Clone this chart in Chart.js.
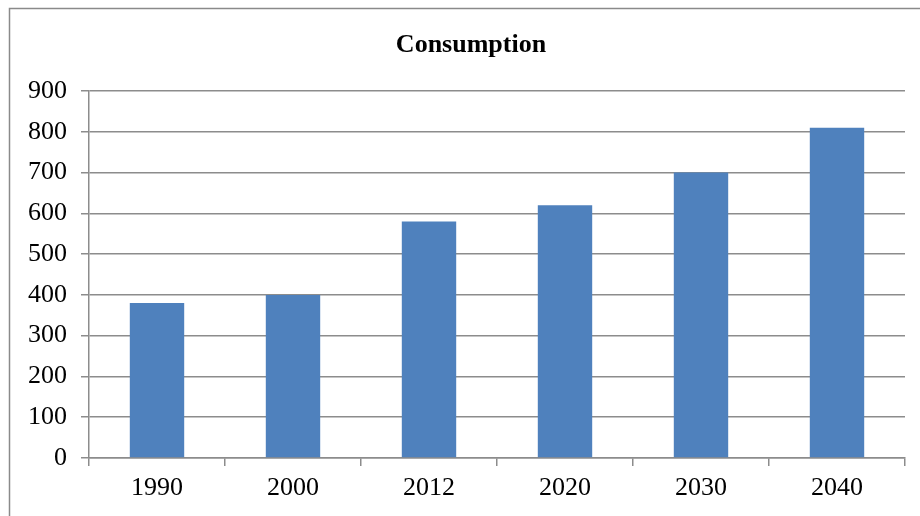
<!DOCTYPE html>
<html>
<head>
<meta charset="utf-8">
<script src="https://cdn.jsdelivr.net/npm/chart.js@4/dist/chart.umd.min.js"></script>
<style>
  html, body { margin: 0; padding: 0; background: #fff; }
  #wrap { width: 920px; height: 516px; position: relative; }
</style>
</head>
<body>
<div id="wrap"><canvas id="consumption-chart"></canvas></div>
<script>
// values
const years = ["1990", "2000", "2012", "2020", "2030", "2040"];
const consumption = [380, 400, 580, 620, 700, 810];
const yTicks = [0, 100, 200, 300, 400, 500, 600, 700, 800, 900];
const chartTitle = "Consumption";

const lineGrey = "#8c8c8c";
const serif = "'Liberation Serif', 'Times New Roman', serif";

// grey frame round the whole chart, cut off at right and bottom like the original
// plus the title, which sits a bit right of the canvas centre in the original
const framePlugin = {
  id: "frame",
  beforeDraw(chart) {
    const ctx = chart.ctx;
    ctx.save();
    ctx.strokeStyle = "#8a8a8a";
    ctx.lineWidth = 1.5;
    ctx.strokeRect(9.5, 8.5, 960, 560);
    ctx.fillStyle = "#000";
    ctx.font = "bold 26px " + serif;
    ctx.textAlign = "center";
    ctx.textBaseline = "alphabetic";
    ctx.fillText(chartTitle, 471, 52);
    ctx.restore();
  },
};

function main() {
  const canvas = document.querySelector("#consumption-chart");
  new Chart(canvas.getContext("2d"), {
    type: "bar",
    data: {
      labels: years,
      datasets: [
        {
          label: chartTitle,
          data: consumption,
          backgroundColor: "#4f81bd",
          borderWidth: 0,
          barPercentage: 0.4,
          categoryPercentage: 1,
        },
      ],
    },
    options: {
      responsive: true,
      maintainAspectRatio: false,
      animation: false,
      layout: { padding: { left: 0, right: 15, top: 91, bottom: 0 } },
      plugins: {
        legend: { display: false },
        tooltip: { enabled: false },
        title: { display: false },
      },
      scales: {
        x: {
          grid: {
            offset: true,
            drawOnChartArea: false,
            drawTicks: true,
            tickLength: 8,
            color: lineGrey,
            lineWidth: 1.5,
          },
          border: { display: true, color: lineGrey, width: 1.5 },
          ticks: {
            color: "#000",
            font: { family: serif, size: 26 },
            padding: 7,
          },
          afterFit(scale) {
            scale.height = 58;
          },
        },
        y: {
          min: 0,
          max: 900,
          afterBuildTicks(scale) {
            scale.ticks = yTicks.map((v) => ({ value: v }));
          },
          grid: {
            color: lineGrey,
            lineWidth: 1.5,
            tickLength: 8,
          },
          border: { display: true, color: lineGrey, width: 1.5 },
          ticks: {
            color: "#000",
            font: { family: serif, size: 26 },
            padding: 14,
          },
          afterFit(scale) {
            scale.width = 89;
          },
        },
      },
    },
    plugins: [framePlugin],
  });
}

main();
</script>
</body>
</html>
